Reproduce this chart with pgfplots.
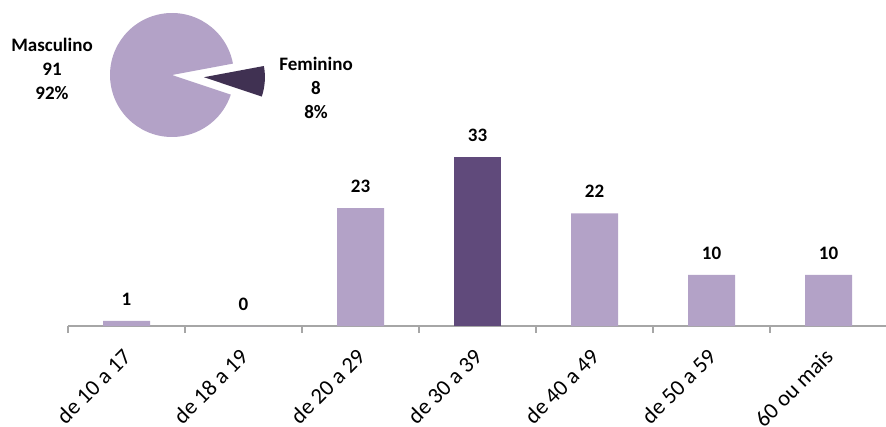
\documentclass[border=0pt]{standalone}
\usepackage{fontspec}
\setmainfont{Carlito}
\usepackage{pgfplots}
\pgfplotsset{compat=1.18}
\definecolor{light}{HTML}{B3A2C7}
\definecolor{dark}{HTML}{604A7B}
\definecolor{fem}{HTML}{403152}
\definecolor{axgray}{HTML}{A6A6A6}
\begin{document}
\begin{tikzpicture}[x=1pt,y=1pt]
\path[use as bounding box, clip] (0,0) rectangle (886,426);
% pie data
\def\masc{91}\def\femv{8}
\pgfmathsetmacro{\tot}{\masc+\femv}
\pgfmathsetmacro{\fa}{360*\femv/\tot}
\pgfmathsetmacro{\st}{-18.5}
\pgfmathsetmacro{\fe}{\st+\fa}
\pgfmathsetmacro{\me}{\st+360}
\pgfmathsetmacro{\mid}{\st+\fa/2}
\coordinate (C) at (172,351);
\fill[light] (C) -- ++(\fe:62pt) arc[start angle=\fe, end angle=\me, radius=62pt] -- cycle;
\fill[fem] ([shift={(\mid:32pt)}]C) -- ++(\st:61pt) arc[start angle=\st, end angle=\fe, radius=61pt] -- cycle;
\node[align=center, font=\bfseries\fontsize{19}{24}\selectfont] at (52,357) {Masculino\\91\\92\%};
\node[align=center, font=\bfseries\fontsize{19}{24}\selectfont] at (316,338) {Feminino\\8\\8\%};
\begin{axis}[
  at={(68pt,100pt)}, anchor=south west, scale only axis,
  width=819pt, height=256pt,
  xmin=-0.5, xmax=6.5, ymin=0, ymax=50,
  axis y line=none, axis x line=bottom,
  x axis line style={-, draw=axgray, line width=1.3pt},
  xtick={0,...,6},
  xticklabels={de 10 a 17, de 18 a 19, de 20 a 29, de 30 a 39, de 40 a 49, de 50 a 59, 60 ou mais},
  major tick length=0pt,
  minor xtick={-0.5,0.5,...,6.5},
  minor tick length=7pt, tick align=outside,
  minor tick style={draw=axgray, line width=1.3pt},
  ytick=\empty,
  /pgf/number format/assume math mode=true,
  xticklabel style={yshift=-21pt, xshift=-5pt, rotate=45, anchor=north east, inner sep=0pt, font=\fontsize{22.5}{26}\selectfont},
  ybar, bar width=47pt,
  nodes near coords,
  every node near coord/.append style={font=\bfseries\fontsize{19}{23}\selectfont, text=black, yshift=12pt},
]
\addplot[ybar, bar shift=0pt, fill=light, draw=none] coordinates {(0,1) (1,0) (2,23) (4,22) (5,10) (6,10)};
\addplot[ybar, bar shift=0pt, fill=dark, draw=none] coordinates {(3,33)};
\end{axis}
\end{tikzpicture}
\end{document}
